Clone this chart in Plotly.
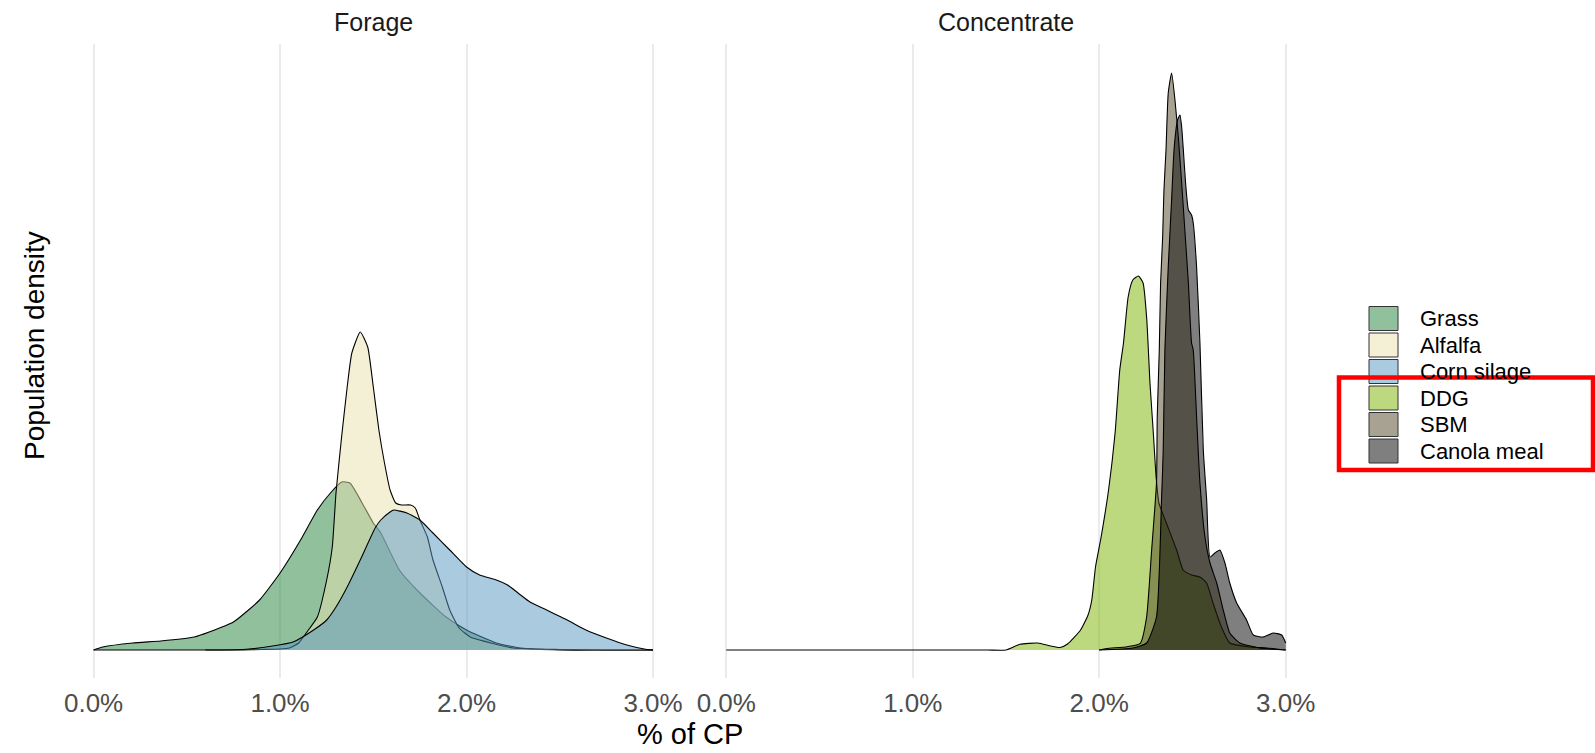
import plotly.graph_objects as go

# ---------------- data (x in % of CP, y = density) ----------------
grass_x = [0.0, 0.05, 0.21, 0.36, 0.54, 0.62, 0.75, 0.89, 1.0, 1.11, 1.2, 1.27, 1.33, 1.375, 1.44, 1.5,
           1.54, 1.64, 1.75, 1.89, 2.0, 2.16, 2.29, 2.5, 2.75, 3.0]
grass_y = [0.0, 0.03, 0.07, 0.09, 0.13, 0.18, 0.28, 0.50, 0.77, 1.10, 1.40, 1.57, 1.68, 1.67, 1.47, 1.27,
           1.17, 0.80, 0.57, 0.33, 0.20, 0.07, 0.02, 0.0, 0.0, 0.0]

alfalfa_x = [0.6, 0.8, 0.9, 1.0, 1.05, 1.1, 1.14, 1.2, 1.25, 1.28, 1.30, 1.33, 1.36, 1.385, 1.43, 1.47, 1.5,
             1.53, 1.56, 1.59, 1.62, 1.65, 1.7, 1.725, 1.75, 1.79, 1.82, 1.87, 1.91, 1.96, 2.02, 2.13,
             2.25, 2.5, 2.75, 3.0]
alfalfa_y = [0.0, 0.0, 0.005, 0.01, 0.02, 0.07, 0.17, 0.33, 0.70, 1.03, 1.57, 2.13, 2.63, 2.97, 3.18, 3.03, 2.63,
             2.2, 1.87, 1.6, 1.47, 1.45, 1.45, 1.42, 1.30, 1.13, 0.90, 0.63, 0.40, 0.22, 0.13, 0.07,
             0.02, 0.005, 0.0, 0.0]

corn_x = [0.0, 0.3, 0.66, 0.82, 0.96, 1.07, 1.18, 1.25, 1.3, 1.36, 1.43, 1.51, 1.54, 1.59, 1.61, 1.68, 1.75,
          1.82, 1.91, 2.0, 2.07, 2.16, 2.22, 2.29, 2.34, 2.43, 2.54, 2.64, 2.75, 2.86, 2.96, 3.0]
corn_y = [0.0, 0.0, 0.0, 0.007, 0.04, 0.08, 0.2, 0.3, 0.43, 0.63, 0.9, 1.22, 1.3, 1.38, 1.4, 1.37, 1.3,
          1.17, 1.0, 0.83, 0.75, 0.7, 0.65, 0.55, 0.48, 0.4, 0.3, 0.2, 0.12, 0.05, 0.007, 0.0]

ddg_x = [0.0, 0.5, 1.0, 1.4, 1.5, 1.575, 1.67, 1.74, 1.79, 1.83, 1.9, 1.94, 1.96, 1.98, 2.01, 2.05, 2.085,
         2.11, 2.13, 2.155, 2.18, 2.21, 2.235, 2.255, 2.272, 2.29, 2.305, 2.32, 2.36, 2.415, 2.45, 2.495,
         2.54, 2.576, 2.61, 2.655, 2.7, 2.81, 2.9, 3.0]
ddg_y = [0.0, 0.0, 0.0, 0.0, 0.0, 0.057, 0.07, 0.04, 0.025, 0.06, 0.2, 0.35, 0.5, 0.83, 1.13, 1.6, 2.17,
         2.8, 3.07, 3.53, 3.7, 3.74, 3.67, 3.3, 2.67, 2.17, 1.73, 1.47, 1.27, 1.0, 0.8, 0.75,
         0.73, 0.67, 0.47, 0.23, 0.07, 0.03, 0.02, 0.0]

sbm_x = [2.0, 2.04, 2.15, 2.22, 2.254, 2.281, 2.307, 2.311, 2.322, 2.329, 2.34, 2.347, 2.358, 2.37, 2.388,
         2.406, 2.424, 2.442, 2.46, 2.478, 2.495, 2.504, 2.522, 2.54, 2.567, 2.594, 2.63, 2.665, 2.7,
         2.754, 2.86, 3.0]
sbm_y = [0.0, 0.015, 0.033, 0.067, 0.33, 1.0, 1.67, 2.33, 3.0, 3.67, 4.13, 4.6, 5.0, 5.57, 5.77,
         5.5, 5.13, 4.67, 4.17, 3.67, 3.07, 3.0, 2.33, 1.67, 1.13, 0.87, 0.67, 0.4, 0.17,
         0.07, 0.02, 0.0]

canola_x = [2.0, 2.18, 2.254, 2.307, 2.334, 2.343, 2.352, 2.37, 2.388, 2.401, 2.42, 2.433, 2.442, 2.451,
            2.463, 2.478, 2.495, 2.504, 2.522, 2.54, 2.558, 2.576, 2.594, 2.62, 2.647, 2.674, 2.7,
            2.737, 2.79, 2.826, 2.879, 2.933, 2.978, 3.0]
canola_y = [0.0, 0.02, 0.07, 0.33, 1.5, 2.0, 3.0, 3.83, 4.5, 5.0, 5.3, 5.35, 5.23, 5.0,
            4.67, 4.4, 4.35, 4.27, 3.83, 3.07, 2.0, 1.5, 0.93, 0.97, 1.0, 0.87, 0.67,
            0.47, 0.3, 0.15, 0.13, 0.17, 0.15, 0.07]

panels = ["Forage", "Concentrate"]
groups = ["Grass", "Alfalfa", "Corn silage", "DDG", "SBM", "Canola meal"]
group_panel = ["Forage", "Forage", "Forage", "Concentrate", "Concentrate", "Concentrate"]
series_x = [grass_x, alfalfa_x, corn_x, ddg_x, sbm_x, canola_x]
series_y = [grass_y, alfalfa_y, corn_y, ddg_y, sbm_y, canola_y]
tick_vals = [0, 1, 2, 3]
tick_text = ["0.0%", "1.0%", "2.0%", "3.0%"]

# ---------------- styling ----------------
base_colors = [(33, 131, 57), (231, 225, 173), (85, 149, 193), (121, 179, 1), (81, 69, 37), (0, 0, 0)]
ALPHA = 0.5
FONT = "Liberation Sans, Arial, sans-serif"
W, H = 1595, 753
T, B = 44, 678


def px(x):
    return x / W


def py(y):
    return (B - y) / (B - T)


fig = go.Figure()
for name, pan, xs, ys, c in zip(groups, group_panel, series_x, series_y, base_colors):
    fig.add_trace(go.Scatter(
        x=xs, y=ys, name=name, mode="lines", fill="tozeroy",
        fillcolor=f"rgba({c[0]},{c[1]},{c[2]},{ALPHA})",
        line=dict(color="black", width=1.1, shape="spline", smoothing=0.5),
        xaxis="x" if pan == "Forage" else "x2", yaxis="y",
        showlegend=False, hoverinfo="skip",
    ))

xcommon = dict(
    range=[-0.15, 3.15], tickvals=tick_vals, ticktext=tick_text,
    showgrid=True, gridcolor="#ebebeb", gridwidth=1.5, zeroline=False, showline=False,
    ticks="outside", ticklen=2, tickcolor="rgba(0,0,0,0)",
    tickfont=dict(family=FONT, size=26, color="#4d4d4d"), anchor="y", automargin=False,
    fixedrange=True,
)
fig.update_layout(
    width=W, height=H, autosize=False,
    margin=dict(l=0, r=0, t=T, b=H - B, pad=0),
    paper_bgcolor="white", plot_bgcolor="white",
    xaxis=dict(domain=[65.6 / W, 681.0 / W], **xcommon),
    xaxis2=dict(domain=[698.3 / W, 1313.7 / W], **xcommon),
    yaxis=dict(domain=[0, 1], range=[-0.28, 6.06], showticklabels=False, showgrid=False,
               zeroline=False, showline=False, ticks="", automargin=False, fixedrange=True),
    showlegend=False,
)

ann = []
# panel strip titles
for label, cx in zip(panels, [373.3, 1006.0]):
    ann.append(dict(text=label, x=px(cx), y=py(22), xref="paper", yref="paper", showarrow=False,
                    xanchor="center", yanchor="middle", font=dict(family=FONT, size=25, color="#1a1a1a")))
# axis titles
ann.append(dict(text="% of CP", x=px(689.6), y=py(734), xref="paper", yref="paper", showarrow=False,
                xanchor="center", yanchor="middle", font=dict(family=FONT, size=29, color="black")))
ann.append(dict(text="Population density", x=px(34), y=py(346), xref="paper", yref="paper",
                showarrow=False, textangle=-90, xanchor="center", yanchor="middle",
                font=dict(family=FONT, size=28, color="black")))

shapes = []
key_centers = [318.5, 345, 371.5, 398, 424.5, 451]
for name, c, yc in zip(groups, base_colors, key_centers):
    shapes.append(dict(type="rect", xref="paper", yref="paper",
                       x0=px(1369), x1=px(1398), y0=py(yc - 12), y1=py(yc + 12),
                       fillcolor=f"rgba({c[0]},{c[1]},{c[2]},{ALPHA})",
                       line=dict(color="#333333", width=1)))
    ann.append(dict(text=name, x=px(1418), y=py(yc), xref="paper", yref="paper", showarrow=False,
                    xanchor="left", yanchor="middle", font=dict(family=FONT, size=22, color="black")))

# red highlight box drawn on the original image
shapes.append(dict(type="rect", xref="paper", yref="paper", layer="above",
                   x0=px(1339), x1=px(1593), y0=py(470), y1=py(377.5),
                   line=dict(color="#ff0000", width=4.5), fillcolor="rgba(0,0,0,0)"))

fig.update_layout(annotations=ann, shapes=shapes)
fig.write_html("out.html")
